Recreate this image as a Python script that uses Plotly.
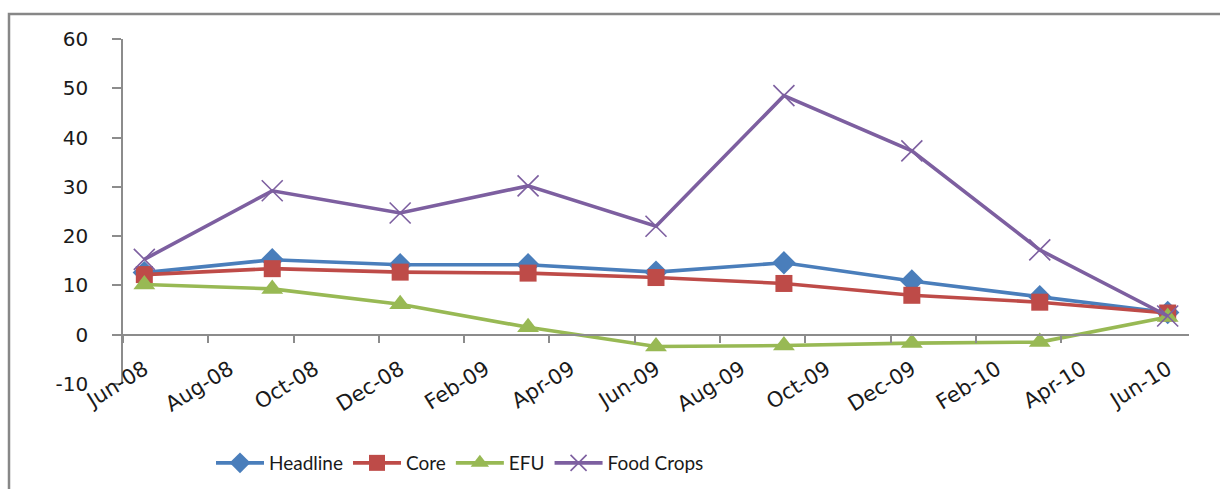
import plotly.graph_objects as go

# Monthly slots of the date axis (each quarter point sits in the middle of its month)
months = ["Jun-08", "Jul-08", "Aug-08", "Sep-08", "Oct-08", "Nov-08", "Dec-08",
          "Jan-09", "Feb-09", "Mar-09", "Apr-09", "May-09", "Jun-09", "Jul-09",
          "Aug-09", "Sep-09", "Oct-09", "Nov-09", "Dec-09", "Jan-10", "Feb-10",
          "Mar-10", "Apr-10", "May-10", "Jun-10"]

# Quarterly observations
quarters = ["Jun-08", "Sep-08", "Dec-08", "Mar-09", "Jun-09",
            "Sep-09", "Dec-09", "Mar-10", "Jun-10"]
headline = [12.6, 15.2, 14.2, 14.2, 12.7, 14.6, 10.9, 7.7, 4.5]
core = [12.2, 13.4, 12.7, 12.5, 11.6, 10.4, 8.0, 6.6, 4.4]
efu = [10.2, 9.3, 6.2, 1.5, -2.4, -2.2, -1.7, -1.5, 3.6]
food_crops = [15.3, 29.2, 24.7, 30.2, 22.0, 48.5, 37.3, 17.2, 3.8]

# Axis ticks / labels
y_ticks = [-10, 0, 10, 20, 30, 40, 50, 60]
y_tick_text = ["-10", "0", "10", "20", "30", "40", "50", "60"]
label_months = months[::2]

W, H = 1220, 489
ML, MR, MT, MB = 123, 31, 39, 105

x_pos = [months.index(q) for q in quarters]
label_pos = [months.index(m) for m in label_months]
tick_pos = [p - 0.5 for p in label_pos[:-1]]

axis_grey = "#8c8c8c"
ytick_font = dict(family="DejaVu Sans", size=20, color="#1a1a1a")
xtick_font = dict(family="DejaVu Sans", size=21, color="#1a1a1a")

series = [
    ("Headline", headline, "#4a7ebb", dict(symbol="diamond", size=18)),
    ("Core", core, "#be4b48", dict(symbol="square", size=17)),
    ("EFU", efu, "#98b954", dict(symbol="triangle-up", size=19)),
    ("Food Crops", food_crops, "#7d5fa0",
     dict(symbol="x-thin-open", size=21, line=dict(width=1.6, color="#9b84bd"))),
]

fig = go.Figure()
for name, vals, col, mk in series:
    marker = dict(color=col, **mk)
    fig.add_trace(go.Scatter(
        x=x_pos, y=vals, name=name, mode="lines+markers",
        line=dict(color=col, width=3.6),
        marker=marker,
    ))

y_min, y_max = y_ticks[0], y_ticks[-1]
# zero position of the category axis, as a fraction of the plot height
zero_frac = (0 - y_min) / (y_max - y_min)

plot_w = W - ML - MR
plot_h = H - MT - MB

fig.update_layout(
    width=W, height=H,
    margin=dict(l=ML, r=MR, t=MT, b=MB, autoexpand=False),
    paper_bgcolor="white", plot_bgcolor="white",
    showlegend=True,
    legend=dict(
        orientation="h", x=(211 - ML) / plot_w, xanchor="left",
        y=-(463 - (H - MB)) / plot_h, yanchor="middle",
        font=dict(family="Lato", size=19, color="#1a1a1a"),
        itemwidth=48, tracegroupgap=0,
    ),
    yaxis=dict(
        range=[y_min, y_max],
        tickmode="array", tickvals=y_ticks, ticktext=y_tick_text,
        showgrid=False, zeroline=False, automargin=False,
        showline=True, linecolor=axis_grey, linewidth=1.5,
        ticks="outside", ticklen=9, tickcolor=axis_grey, tickwidth=1.5,
        tickfont=ytick_font, ticklabelstandoff=20,
    ),
    xaxis=dict(
        range=[-0.5, len(months) - 0.5], automargin=False,
        tickmode="array", tickvals=tick_pos,
        showticklabels=False, showgrid=False, zeroline=False,
        showline=True, linecolor=axis_grey, linewidth=1.5,
        ticks="outside", ticklen=8, tickcolor=axis_grey, tickwidth=1.5,
        anchor="free", position=zero_frac,
    ),
    xaxis2=dict(
        matches="x", overlaying="x", anchor="free", position=zero_frac,
        automargin=False,
        tickmode="array", tickvals=label_pos, ticktext=label_months,
        tickangle=-32, ticks="outside", ticklen=13, tickcolor="rgba(0,0,0,0)",
        showgrid=False, zeroline=False, showline=False,
        tickfont=xtick_font,
    ),
    shapes=[dict(
        type="rect", xref="paper", yref="paper",
        x0=(9 - ML) / plot_w, x1=(W + 20 - ML) / plot_w,
        y0=-(H + 20 - (H - MB)) / plot_h, y1=1 + (MT - 14) / plot_h,
        line=dict(color="#878787", width=2.5), fillcolor="rgba(0,0,0,0)",
        layer="below",
    )],
)

# invisible trace so the label axis is drawn
fig.add_trace(go.Scatter(x=[label_pos[0]], y=[None], xaxis="x2", showlegend=False,
                         hoverinfo="skip"))

fig.write_html("out.html")
